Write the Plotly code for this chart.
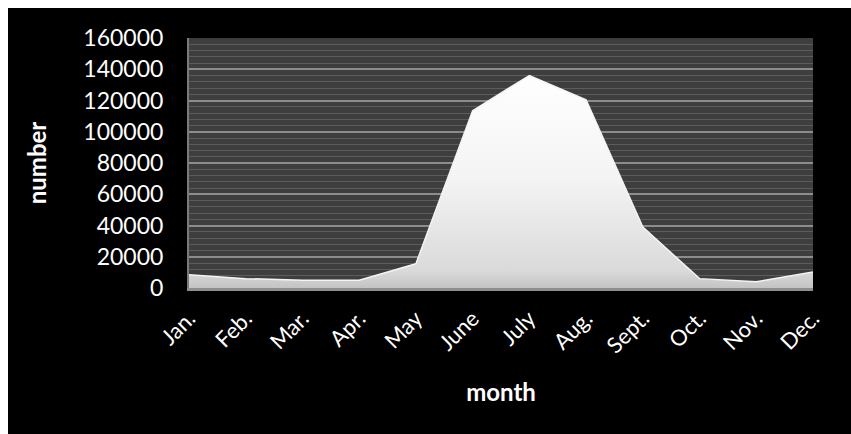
import plotly.graph_objects as go

months = ["Jan.", "Feb.", "Mar.", "Apr.", "May", "June", "July", "Aug.", "Sept.", "Oct.", "Nov.", "Dec."]
numbers = [8500, 6000, 5000, 5000, 15500, 113500, 136000, 120500, 39000, 6000, 4000, 10300]
y_ticks = [0, 20000, 40000, 60000, 80000, 100000, 120000, 140000, 160000]

FONT = "Lato"
W, H = 851, 434
L, R, T, B = 189, 38, 38, 146
PW, PH = W - L - R, H - T - B


def px_x(px):
    return (px - L) / PW


def px_y(py):
    return (H - B - py) / PH


fig = go.Figure()
fig.add_trace(go.Scatter(
    x=months, y=numbers, mode="lines", fill="tozeroy",
    line=dict(color="#f4f4f4", width=1.5),
    fillgradient=dict(type="vertical", start=0, stop=140000,
                      colorscale=[[0, "#c4c4c4"], [0.08, "#dadada"], [0.5, "#f4f4f4"], [1, "#ffffff"]]),
    hoverinfo="skip", showlegend=False,
))

# white page edge (top and left strips) as in the reference picture
fig.add_shape(type="rect", xref="paper", yref="paper", layer="above",
              x0=px_x(0), x1=px_x(8), y0=px_y(H), y1=px_y(0),
              fillcolor="white", line=dict(width=0))
fig.add_shape(type="rect", xref="paper", yref="paper", layer="above",
              x0=px_x(0), x1=px_x(W), y0=px_y(8), y1=px_y(0),
              fillcolor="white", line=dict(width=0))

fig.update_layout(
    width=W, height=H,
    margin=dict(l=L, r=R, t=T, b=B, pad=0),
    paper_bgcolor="black",
    plot_bgcolor="#3e3e3e",
    font=dict(family=FONT, color="white"),
    xaxis=dict(
        type="category", range=[0, 11], showgrid=False,
        tickangle=-45, tickfont=dict(size=22, family=FONT, color="white"),
        showline=True, linecolor="#8e8e8e", linewidth=3,
        ticks="outside", ticklen=6, tickcolor="black",
        title=dict(text="<b>month</b>", font=dict(size=24, family=FONT, color="white"), standoff=28),
    ),
    yaxis=dict(
        range=[0, 160000], tickvals=y_ticks, ticktext=[str(v) for v in y_ticks],
        showgrid=True, gridcolor="#8c8c8c", gridwidth=1.5,
        minor=dict(dtick=4000, showgrid=True, gridcolor="#5c5c5c", gridwidth=1),
        zeroline=False,
        showline=True, linecolor="#7a7a7a", linewidth=2,
        ticks="outside", ticklen=19, tickcolor="black",
        tickfont=dict(size=23, family=FONT, color="white"),
        title=dict(text="<b>number</b>", font=dict(size=24, family=FONT, color="white"), standoff=30),
    ),
)

fig.write_html("out.html", config={"displayModeBar": False},
               post_script="document.body.style.margin='0';document.body.style.overflow='hidden';")
